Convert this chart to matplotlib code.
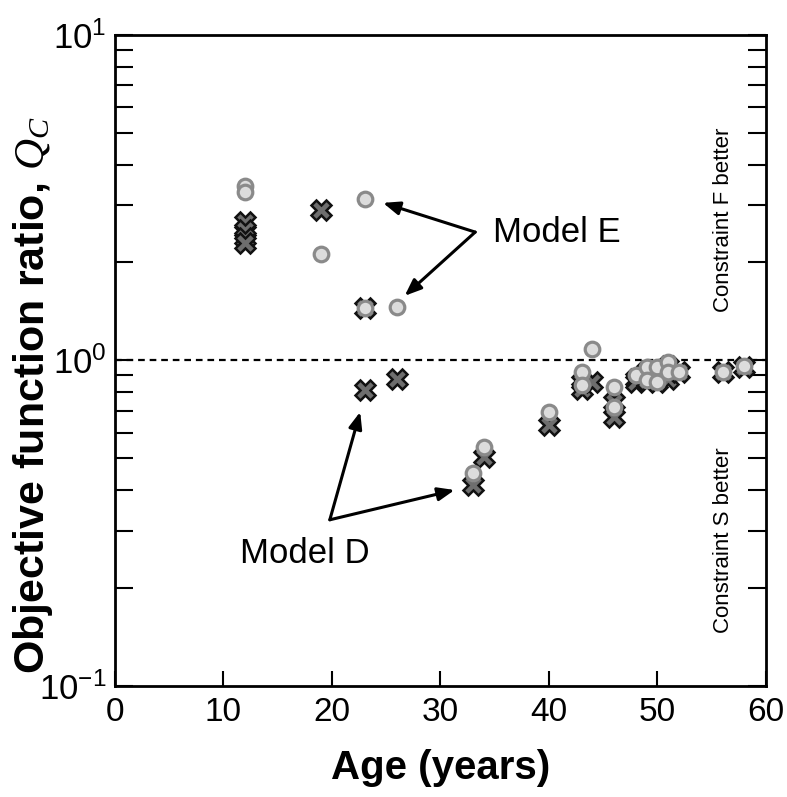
import matplotlib
matplotlib.use("Agg")
import matplotlib.pyplot as plt
from matplotlib.ticker import LogLocator, NullFormatter, FixedLocator

plt.rcParams['font.family'] = ['Liberation Sans', 'DejaVu Sans']
plt.rcParams['mathtext.fontset'] = 'custom'
plt.rcParams['mathtext.rm'] = 'Liberation Sans'
plt.rcParams['mathtext.it'] = 'Liberation Serif:italic'

# Model D (crosses)
d_age = [12, 12, 12, 12, 19, 23, 23, 26, 33, 34, 40, 43, 43, 44, 46, 46,
         48, 48, 49, 49, 50, 50, 51, 51, 52, 56, 58]
d_q = [2.66, 2.52, 2.38, 2.30, 2.90, 1.45, 0.81, 0.88, 0.415, 0.505, 0.634,
       0.86, 0.82, 0.86, 0.746, 0.67, 0.88, 0.86, 0.93, 0.87, 0.92, 0.86,
       0.96, 0.88, 0.92, 0.92, 0.955]

# Model E (circles)
e_age = [12, 12, 19, 23, 23, 26, 33, 34, 40, 43, 43, 44, 46, 46,
         48, 49, 49, 50, 50, 51, 51, 52, 56, 58]
e_q = [3.44, 3.29, 2.12, 3.13, 1.45, 1.46, 0.451, 0.542, 0.695, 0.922, 0.841,
       1.085, 0.829, 0.72, 0.90, 0.955, 0.87, 0.955, 0.86, 0.99, 0.92, 0.92,
       0.92, 0.965]

x_ticks = [0, 10, 20, 30, 40, 50, 60]

fig = plt.figure(figsize=(7.87, 7.97), dpi=100)
ax = fig.add_axes([0.1461, 0.1393, 0.8272, 0.8168])

ax.set_yscale('log')
ax.set_xlim(0, 60)
ax.set_ylim(0.1, 10)

ax.axhline(1.0, color='black', lw=1.6, ls=(0, (3, 2.2)), zorder=1)

ax.plot(d_age, d_q, ls='none', marker='X', ms=15, mfc='#6e6e6e',
        mec='#111111', mew=1.8, zorder=3)
ax.plot(e_age, e_q, ls='none', marker='o', ms=10.5, mfc='#dcdcdc',
        mec='#8a8a8a', mew=2.3, zorder=4)

arrow = dict(arrowstyle='-|>,head_length=1.0,head_width=0.4', color='black',
             lw=2.2, shrinkA=0, shrinkB=0)
ax.annotate('', xy=(24.7, 3.05), xytext=(33.2, 2.48), arrowprops=arrow)
ax.annotate('', xy=(26.7, 1.58), xytext=(33.2, 2.48), arrowprops=arrow)
ax.text(34.8, 2.48, 'Model E', fontsize=25, va='center', ha='left')

ax.annotate('', xy=(22.6, 0.695), xytext=(19.8, 0.324), arrowprops=arrow)
ax.annotate('', xy=(31.3, 0.40), xytext=(19.8, 0.324), arrowprops=arrow)
ax.text(17.5, 0.256, 'Model D', fontsize=25, va='center', ha='center')

ax.text(56.1, 2.7, 'Constraint F better', rotation=90, fontsize=16,
        va='center', ha='center')
ax.text(56.1, 0.281, 'Constraint S better', rotation=90, fontsize=16,
        va='center', ha='center')

ax.xaxis.set_major_locator(FixedLocator(x_ticks))
ax.set_xticklabels([str(t) for t in x_ticks])
ax.yaxis.set_major_locator(LogLocator(base=10, numticks=10))
ax.yaxis.set_minor_locator(LogLocator(base=10, subs=range(2, 10), numticks=20))
ax.yaxis.set_minor_formatter(NullFormatter())

ax.tick_params(axis='x', which='major', direction='in', length=11, width=1.5,
               labelsize=24, pad=8, top=False)
ax.tick_params(axis='y', which='both', direction='in', length=13, width=1.5,
               left=True, right=True, labelsize=25, pad=6)

for s in ax.spines.values():
    s.set_linewidth(2.0)

ax.set_xlabel('Age (years)', fontsize=29, fontweight='bold')
ax.xaxis.set_label_coords(0.5, -0.097)
ax.set_ylabel(r'Objective function ratio, $\mathit{Q}_{\mathit{C}}$', fontsize=31,
              fontweight='bold')
ax.yaxis.set_label_coords(-0.092, 0.447)

fig.savefig('out.png', dpi=100)
